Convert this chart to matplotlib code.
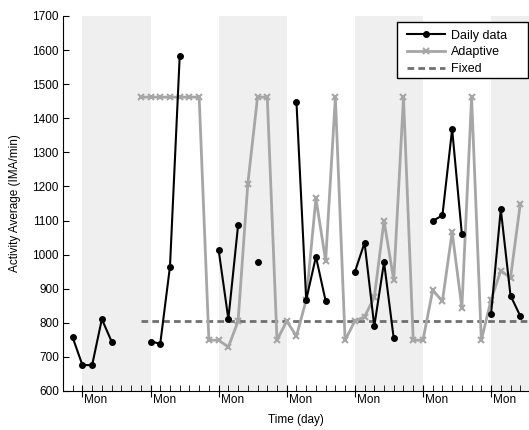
import numpy as np
import matplotlib
matplotlib.use("Agg")
import matplotlib.pyplot as plt
import matplotlib.transforms as mtrans
from matplotlib.patches import Rectangle

plt.rcParams['font.family'] = ['Liberation Sans', 'DejaVu Sans']

nan = np.nan
# day index 0..47
daily_days = [1, 2, 3, 4, 5, 9, 10, 11, 12, 16, 17, 18, 20, 24, 25, 26, 27,
              30, 31, 32, 33, 34, 38, 39, 40, 41, 44, 45, 46, 47]
daily_vals = [757, 676, 676, 811, 745, 745, 739, 965, 1583, 1014, 811, 1086, 979,
              1447, 867, 994, 864, 949, 1035, 790, 978, 754, 1099, 1115, 1368, 1060,
              826, 1133, 880, 820]

adaptive_days = list(range(8, 48))
adaptive_vals = [1462, 1462, 1462, 1462, 1462, 1462, 1462,
                 749, 749, 729, 805, 1208, 1462, 1462, 749, 805, 761, 867, 1165, 982,
                 1462, 749, 805, 818, 875, 1099, 925, 1462, 749, 749, 895, 864, 1066,
                 844, 1462, 749, 867, 953, 932, 1148]

fixed_days = [8, 48]
fixed_vals = [805, 805]

mondays = [2, 9, 16, 23, 30, 37, 44]
mon_labels = ['Mon'] * len(mondays)

# build daily series with gaps
all_days = np.arange(0, 48)
daily_series = np.full(all_days.shape, nan)
for d, v in zip(daily_days, daily_vals):
    daily_series[d] = v

fig = plt.figure(figsize=(5.29, 4.30), dpi=100)
ax = fig.add_axes([0.119, 0.0907, 0.881, 0.8721])

# alternating weekly shading
for i, m in enumerate(mondays):
    if i % 2 == 0:
        ax.axvspan(m, m + 7, color='#efefef', zorder=0, lw=0)

ax.plot(fixed_days, fixed_vals, color='#707070', lw=2, ls=(0, (2.4, 1.5)), label='Fixed', zorder=2)
ax.plot(adaptive_days, adaptive_vals, color='#a6a6a6', lw=2, marker='x', ms=4,
        mew=1.5, label='Adaptive', zorder=3)
ax.plot(all_days, daily_series, color='black', lw=1.5, marker='o', ms=4,
        label='Daily data', zorder=4)

ax.set_xlim(0, 47.9)
ax.set_ylim(600, 1700)
ax.set_yticks(np.arange(600, 1701, 100))
ax.set_xticks(mondays)
ax.set_xticklabels(mon_labels, ha='left')
ax.set_xticks(np.arange(0, 48), minor=True)
ax.tick_params(axis='x', which='major', direction='inout', length=8, labelsize=8.5, pad=-2)
ax.tick_params(axis='x', which='minor', direction='in', length=4)
ax.tick_params(axis='y', which='major', direction='in', length=4, labelsize=8.5, pad=3)
offset = mtrans.ScaledTranslation(1.5 / 72, 0, fig.dpi_scale_trans)
for lab in ax.get_xticklabels():
    lab.set_transform(lab.get_transform() + offset)

ax.spines['top'].set_visible(False)
ax.spines['right'].set_visible(False)
ax.set_xlabel('Time (day)', fontsize=8.5, labelpad=6)
ax.set_ylabel('Activity Average (IMA/min)', fontsize=8.5, labelpad=8)

h, l = ax.get_legend_handles_labels()
order = [2, 1, 0]
leg = ax.legend([h[i] for i in order], [l[i] for i in order], loc='upper left',
                bbox_to_anchor=(407 / 529, 1 - 29.5 / 430), bbox_transform=fig.transFigure,
                fontsize=9, frameon=False, borderaxespad=0, handlelength=3.0,
                labelspacing=0.4, borderpad=0, handletextpad=0.55, numpoints=1)
leg.set_zorder(6)
# legend box (MATLAB-style with extra room on the right)
box = Rectangle((397 / 529, 1 - 78 / 430), 130.5 / 529, 56 / 430,
                transform=fig.transFigure, facecolor='white',
                edgecolor='black', lw=1, zorder=5, clip_on=False)
ax.add_artist(box)
fig.savefig('out.png', dpi=100)
